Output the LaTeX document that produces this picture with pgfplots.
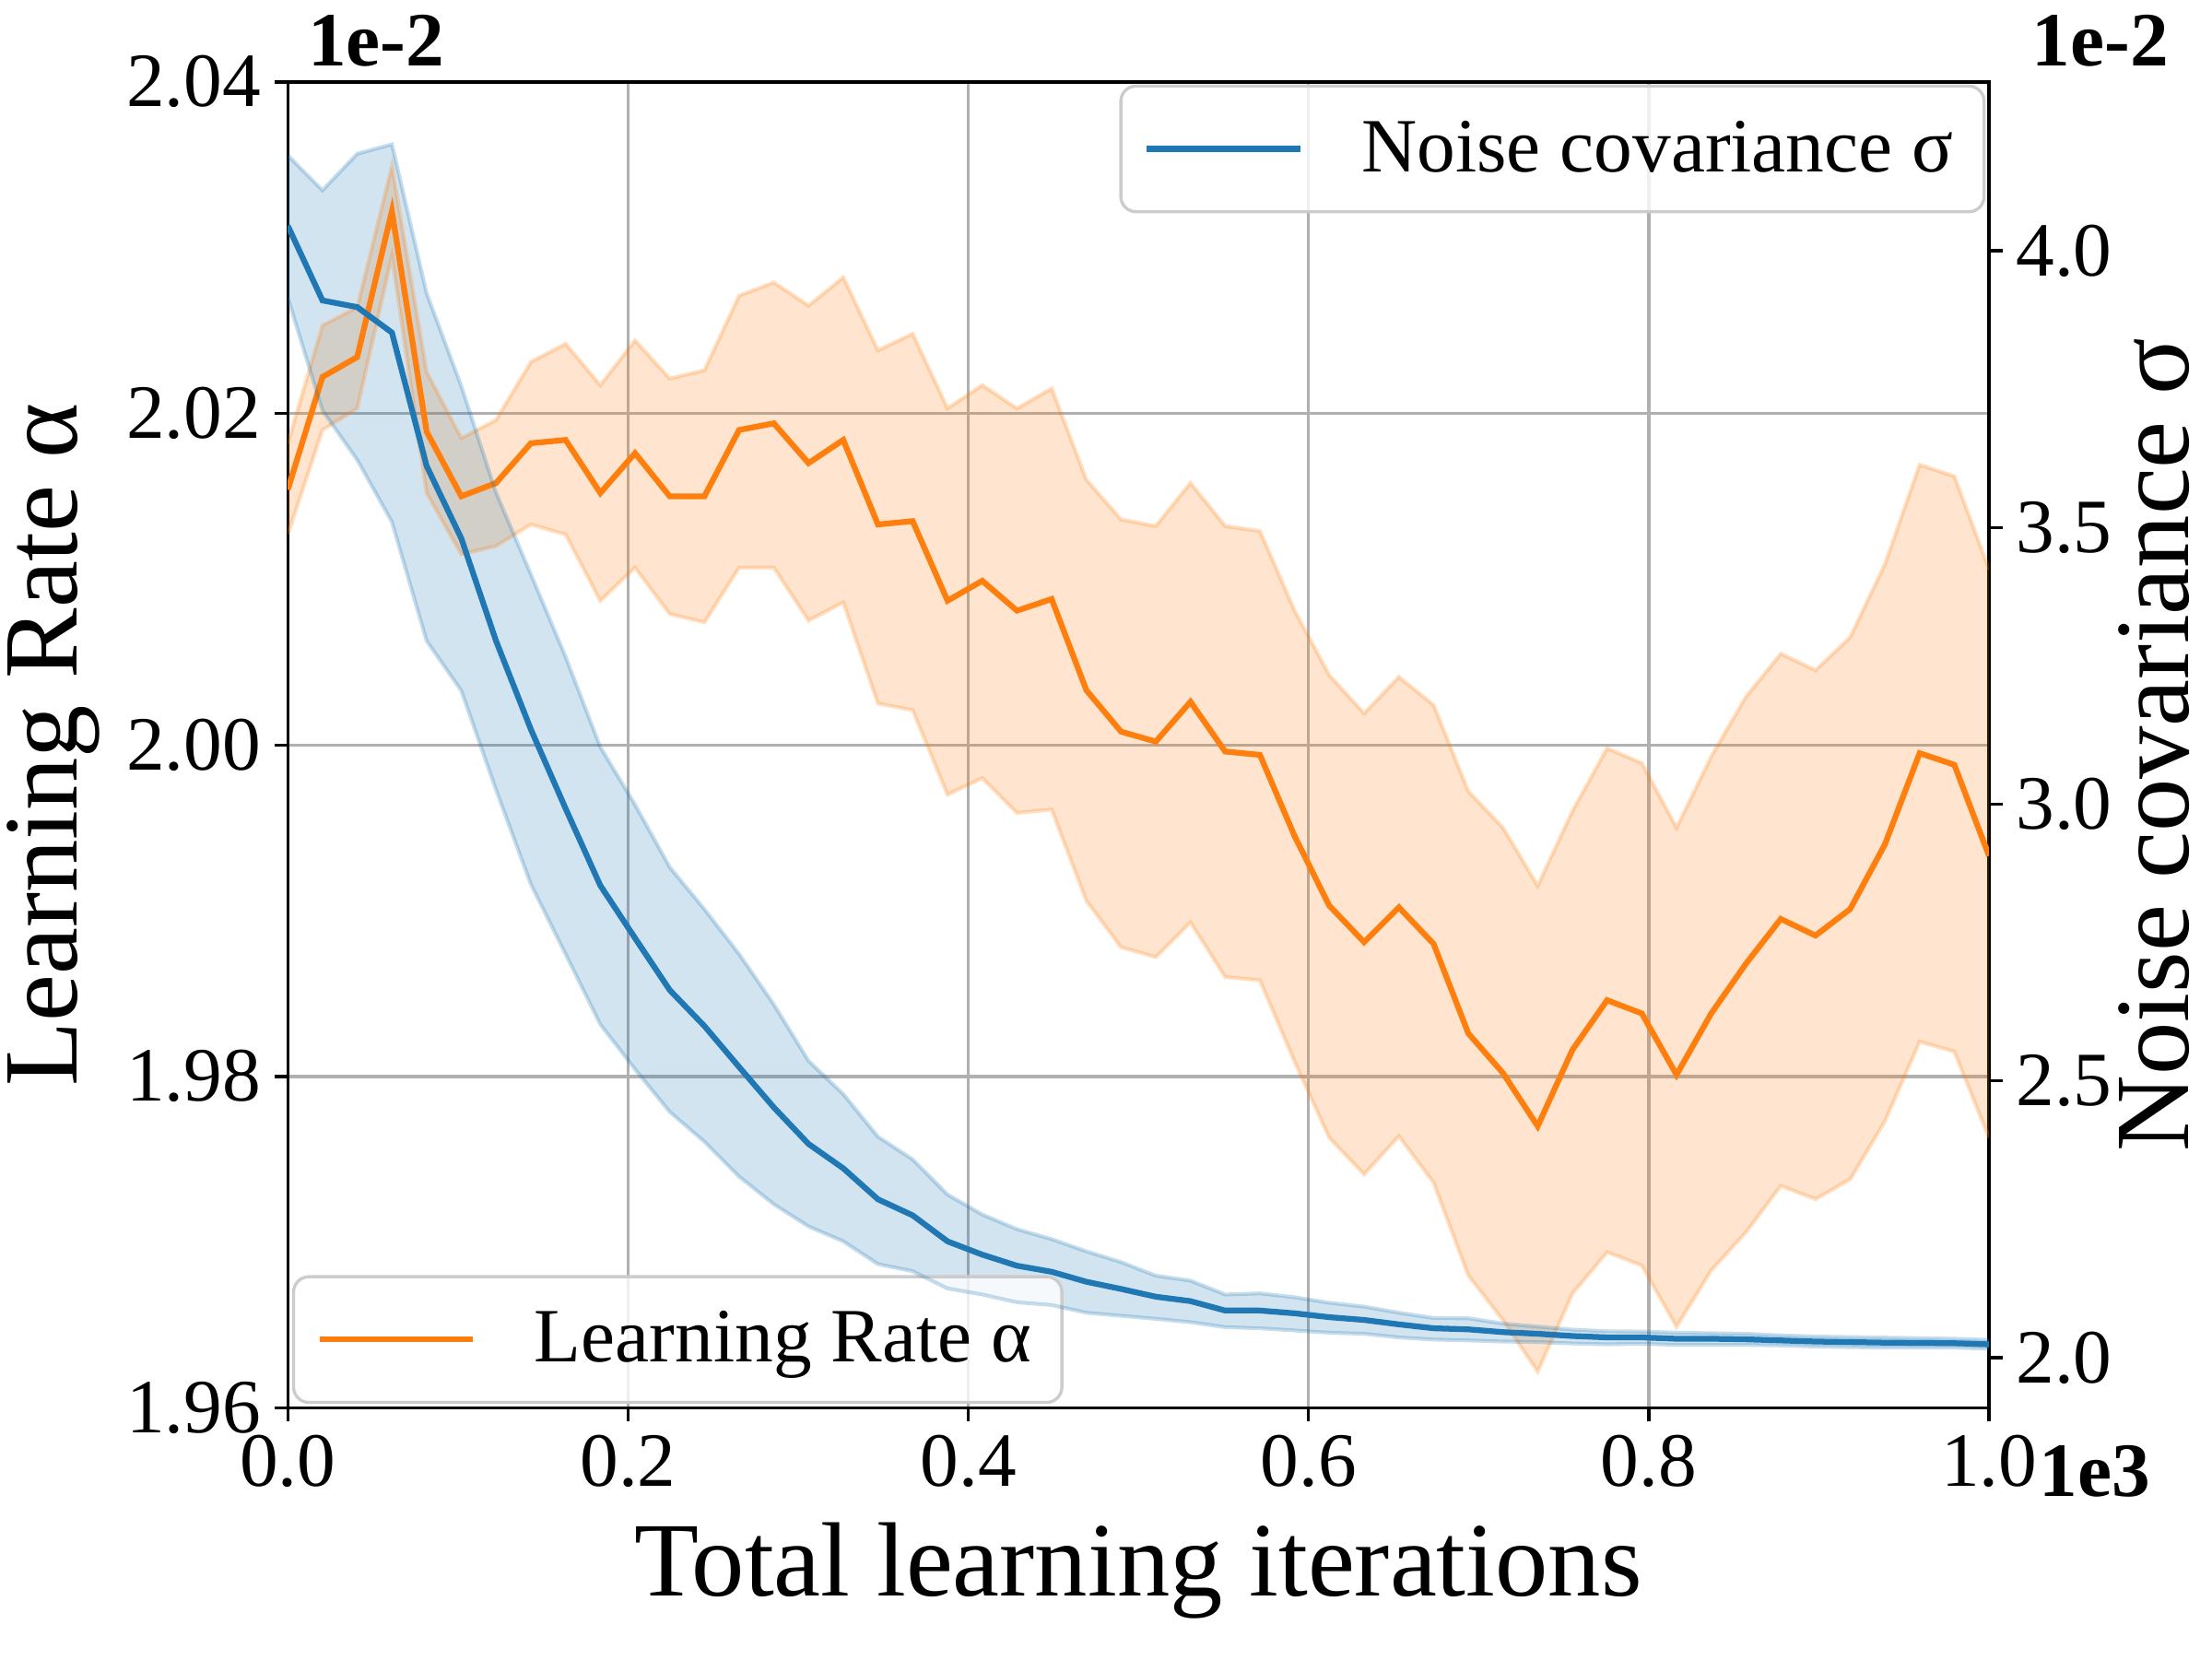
\documentclass[border=0pt]{standalone}
\usepackage{fontspec}
\setmainfont{Liberation Serif}
\usepackage{pgfplots}
\pgfplotsset{compat=1.18}
\usepgfplotslibrary{fillbetween}
\usepackage{pgfplotstable}

\definecolor{tabblue}{HTML}{1F77B4}
\definecolor{taborange}{HTML}{FF7F0E}
\definecolor{gridgray}{HTML}{B0B0B0}
\definecolor{leggray}{HTML}{CCCCCC}

\newcommand{\tickfont}{\rmfamily\fontsize{20}{24}\selectfont}
\newcommand{\legfont}{\rmfamily\fontsize{20}{24}\selectfont}
\newcommand{\labfont}{\rmfamily\fontsize{27.5}{33}\selectfont}
\newcommand{\offfont}{\rmfamily\bfseries\fontsize{20}{24}\selectfont}

\pgfplotstableread{
x mean lo hi
0.0000 2.0154 2.0127 2.0182
0.0204 2.0222 2.0190 2.0253
0.0408 2.0234 2.0203 2.0264
0.0612 2.0322 2.0295 2.0349
0.0816 2.0189 2.0152 2.0225
0.1020 2.0150 2.0115 2.0185
0.1224 2.0158 2.0120 2.0196
0.1429 2.0182 2.0133 2.0231
0.1633 2.0184 2.0127 2.0242
0.1837 2.0152 2.0087 2.0217
0.2041 2.0176 2.0107 2.0244
0.2245 2.0150 2.0079 2.0221
0.2449 2.0150 2.0074 2.0226
0.2653 2.0190 2.0107 2.0271
0.2857 2.0194 2.0107 2.0279
0.3061 2.0170 2.0075 2.0265
0.3265 2.0184 2.0086 2.0282
0.3469 2.0133 2.0025 2.0238
0.3673 2.0135 2.0021 2.0248
0.3878 2.0087 1.9970 2.0203
0.4082 2.0099 1.9980 2.0217
0.4286 2.0081 1.9959 2.0203
0.4490 2.0088 1.9961 2.0215
0.4694 2.0033 1.9906 2.0160
0.4898 2.0008 1.9878 2.0136
0.5102 2.0002 1.9872 2.0132
0.5306 2.0026 1.9893 2.0158
0.5510 1.9996 1.9860 2.0132
0.5714 1.9994 1.9858 2.0129
0.5918 1.9945 1.9809 2.0081
0.6122 1.9903 1.9763 2.0042
0.6327 1.9881 1.9741 2.0019
0.6531 1.9902 1.9764 2.0041
0.6735 1.9880 1.9736 2.0024
0.6939 1.9826 1.9680 1.9972
0.7143 1.9802 1.9653 1.9950
0.7347 1.9770 1.9622 1.9915
0.7551 1.9816 1.9669 1.9960
0.7755 1.9846 1.9694 1.9998
0.7959 1.9838 1.9686 1.9989
0.8163 1.9801 1.9649 1.9950
0.8367 1.9838 1.9683 1.9993
0.8571 1.9868 1.9706 2.0029
0.8776 1.9895 1.9734 2.0055
0.8980 1.9885 1.9726 2.0045
0.9184 1.9901 1.9738 2.0065
0.9388 1.9940 1.9773 2.0109
0.9592 1.9995 1.9821 2.0169
0.9796 1.9988 1.9815 2.0162
1.0000 1.9933 1.9763 2.0106
}\orangetab

\pgfplotstableread{
x mean lo hi
0.0000 4.045 3.915 4.172
0.0204 3.910 3.711 4.109
0.0408 3.898 3.622 4.175
0.0612 3.852 3.510 4.192
0.0816 3.611 3.295 3.923
0.1020 3.480 3.205 3.755
0.1224 3.295 3.026 3.563
0.1429 3.135 2.855 3.415
0.1633 2.992 2.729 3.266
0.1837 2.853 2.602 3.103
0.2041 2.758 2.521 2.999
0.2245 2.664 2.444 2.886
0.2449 2.599 2.390 2.810
0.2653 2.525 2.327 2.729
0.2857 2.452 2.277 2.638
0.3061 2.386 2.237 2.536
0.3265 2.342 2.210 2.476
0.3469 2.286 2.169 2.399
0.3673 2.257 2.156 2.358
0.3878 2.210 2.125 2.2945
0.4082 2.186 2.114 2.2585
0.4286 2.166 2.100 2.232
0.4490 2.155 2.095 2.214
0.4694 2.137 2.081 2.192
0.4898 2.124 2.0755 2.1725
0.5102 2.110 2.070 2.148
0.5306 2.102 2.064 2.139
0.5510 2.085 2.055 2.114
0.5714 2.085 2.053 2.116
0.5918 2.080 2.049 2.109
0.6122 2.073 2.045 2.099
0.6327 2.068 2.043 2.092
0.6531 2.060 2.0365 2.081
0.6735 2.053 2.0326 2.0715
0.6939 2.051 2.031 2.071
0.7143 2.046 2.029 2.0615
0.7347 2.043 2.028 2.056
0.7551 2.039 2.0255 2.0505
0.7755 2.0365 2.024 2.0476
0.7959 2.0365 2.025 2.047
0.8163 2.034 2.023 2.045
0.8367 2.034 2.023 2.044
0.8571 2.033 2.023 2.043
0.8776 2.031 2.022 2.040
0.8980 2.029 2.020 2.038
0.9184 2.028 2.019 2.037
0.9388 2.027 2.018 2.036
0.9592 2.0265 2.018 2.035
0.9796 2.026 2.018 2.034
1.0000 2.024 2.016 2.032
}\bluetab

\pgfplotsset{
  common/.style={
    scale only axis, width=443pt, height=345.3pt,
    xmin=0, xmax=1,
    tick align=outside, major tick length=3.5pt,
    tick style={black, line width=0.8pt},
    axis line style={black, line width=0.8pt},
    ticklabel style={font=\tickfont},
    /pgf/number format/assume math mode=true,
    scaled ticks=false,
    legend image code/.code={\draw[#1] (0pt,0pt) -- (40pt,0pt); \path[draw=none] (0pt,0pt) -- (54pt,0pt);},
    legend cell align=left,
  },
  legbox/.style={
    draw=leggray, line width=0.8pt, rounded corners=4pt,
    fill=white, fill opacity=0.8, draw opacity=1, text opacity=1,
    font=\legfont, inner xsep=6pt, inner ysep=7pt,
  },
}

\begin{document}
\begin{tikzpicture}
\begin{axis}[common, name=a1,
  ymin=1.96, ymax=2.04,
  ytick={1.96,1.98,2.00,2.02,2.04},
  xtick={0,0.2,0.4,0.6,0.8,1.0},
  xtick pos=bottom, ytick pos=left,
  grid=major, grid style={gridgray, line width=0.8pt},
  xticklabel style={/pgf/number format/fixed, /pgf/number format/fixed zerofill, /pgf/number format/precision=1},
  yticklabel style={/pgf/number format/fixed, /pgf/number format/fixed zerofill, /pgf/number format/precision=2},
  xlabel={Total learning iterations},
  ylabel={Learning Rate α},
  every axis x label/.style={at={(rel axis cs:0.5,-0.1415)}, anchor=base, font=\labfont},
  every axis y label/.style={at={(rel axis cs:-0.1376,0.5)}, anchor=center, rotate=90, font=\labfont},
  legend style={legbox, at={(rel axis cs:0.0025,0.003)}, anchor=south west},
]
\addplot[name path=oh, taborange, draw opacity=0.25, line width=1pt, forget plot] table[x=x,y=hi]{\orangetab};
\addplot[name path=ol, taborange, draw opacity=0.25, line width=1pt, forget plot] table[x=x,y=lo]{\orangetab};
\addplot[fill=taborange, fill opacity=0.2, draw=none, forget plot] fill between[of=oh and ol];
\addplot[taborange, line width=1.5pt] table[x=x,y=mean]{\orangetab};
\addlegendentry{Learning Rate α}
\end{axis}

\begin{axis}[common,
  ymin=1.909, ymax=4.305,
  axis y line*=right, axis x line=none,
  ytick={2.0,2.5,3.0,3.5,4.0},
  yticklabel style={/pgf/number format/fixed, /pgf/number format/fixed zerofill, /pgf/number format/precision=1},
  ylabel={Noise covariance σ},
  every axis y label/.style={at={(rel axis cs:1.097,0.5)}, anchor=center, rotate=90, font=\labfont},
  legend style={legbox, at={(rel axis cs:0.998,0.998)}, anchor=north east},
]
\addplot[name path=bh, tabblue, draw opacity=0.25, line width=1pt, forget plot] table[x=x,y=hi]{\bluetab};
\addplot[name path=bl, tabblue, draw opacity=0.25, line width=1pt, forget plot] table[x=x,y=lo]{\bluetab};
\addplot[fill=tabblue, fill opacity=0.2, draw=none, forget plot] fill between[of=bh and bl];
\addplot[tabblue, line width=1.5pt] table[x=x,y=mean]{\bluetab};
\addlegendentry{Noise covariance σ}
\end{axis}
\node[font=\offfont, anchor=west, inner sep=0pt] at ([xshift=5.1pt, yshift=10.6pt]a1.north west) {1e-2};
\node[font=\offfont, anchor=west, inner sep=0pt] at ([xshift=11pt, yshift=10.6pt]a1.north east) {1e-2};
\node[font=\offfont, anchor=west, inner sep=0pt] at ([xshift=12.9pt, yshift=-16.5pt]a1.south east) {1e3};
\pgfresetboundingbox
\path (-74.94pt,-65.39pt) rectangle (501.06pt,366.61pt);
\end{tikzpicture}
\end{document}
